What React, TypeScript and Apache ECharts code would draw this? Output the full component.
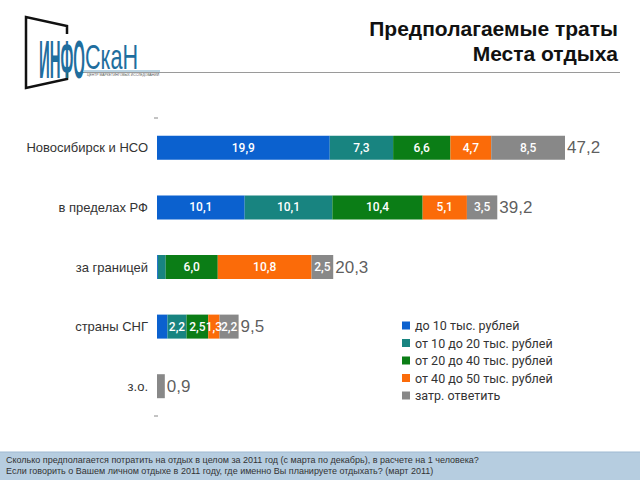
import React, { useEffect, useRef } from "react";
import * as echarts from "echarts";

const categories = ["Новосибирск и НСО", "в пределах РФ", "за границей", "страны СНГ", "з.о."];
const seriesNames = [
  "до 10 тыс. рублей",
  "от 10 до 20 тыс. рублей",
  "от 20 до 40 тыс. рублей",
  "от 40 до 50 тыс. рублей",
  "затр. ответить",
];
const upTo10 = [19.9, 10.1, 0.1, 1.2, 0];
const from10to20 = [7.3, 10.1, 0.9, 2.2, 0];
const from20to40 = [6.6, 10.4, 6.0, 2.5, 0];
const from40to50 = [4.7, 5.1, 10.8, 1.3, 0];
const noAnswer = [8.5, 3.5, 2.5, 2.2, 0.9];
const totals = [47.2, 39.2, 20.3, 9.5, 0.9];
const colors = ["#0b61cf", "#188480", "#0b7d16", "#fb6b09", "#888888"];

const titleLines = ["Предполагаемые траты", "Места отдыха"];
const footerLines = [
  "Сколько предполагается потратить на отдых в целом за 2011 год (с марта по декабрь), в расчете на 1 человека?",
  "Если говорить о Вашем личном отдыхе в 2011 году, где именно Вы планируете отдыхать? (март 2011)",
];

const fmt = (v: number) => v.toFixed(1).replace(".", ",");

export default function App() {
  const ref = useRef<HTMLDivElement>(null);
  useEffect(() => {
    if (!ref.current) return;
    const chart = echarts.init(ref.current, null, { renderer: "svg" });
    const all = [upTo10, from10to20, from20to40, from40to50, noAnswer];
    const sums = categories.map((_, i) => all.reduce((s, arr) => s + arr[i], 0));
    const barSeries = all.map((arr, k) => ({
      name: seriesNames[k],
      type: "bar",
      stack: "total",
      barWidth: 24,
      itemStyle: { color: colors[k] },
      data: arr.map((v) => ({
        value: v,
        label: {
          show: v >= 1.25,
        },
      })),
      label: {
        position: "inside",
        color: "#ffffff",
        fontSize: 12,
        fontWeight: 500,
        fontFamily: "Roboto",
        formatter: (p: any) => fmt(p.value),
      },
    }));
    const totalSeries = {
      name: "total",
      type: "scatter",
      symbolSize: 0,
      data: sums.map((s, i) => [s, categories[i]]),
      label: {
        show: true,
        position: "right",
        distance: 2,
        color: "#333333",
        fontSize: 17,
        fontFamily: "Liberation Sans",
        formatter: (p: any) => fmt(totals[p.dataIndex]),
      },
      z: 5,
    };
    chart.setOption({
      animation: false,
      backgroundColor: "#ffffff",
      grid: { left: 157, top: 118, width: 408, height: 298 },
      xAxis: {
        type: "value",
        min: 0,
        max: 47,
        show: false,
      },
      yAxis: {
        type: "category",
        inverse: true,
        data: categories,
        axisLine: { show: false },
        axisTick: { show: false },
        axisLabel: {
          margin: 9,
          color: "#333333",
          fontSize: 13,
          fontFamily: "Liberation Sans",
        },
      },
      legend: {
        data: seriesNames,
        orient: "vertical",
        left: 397,
        top: 314,
        itemWidth: 8,
        itemHeight: 8,
        itemGap: 4.5,
        icon: "rect",
        textStyle: { color: "#333333", fontSize: 12.5, fontFamily: "Roboto" },
      },
      series: [...barSeries, totalSeries],
      graphic: [
        // axis end dashes
        { type: "line", shape: { x1: 154, y1: 118, x2: 158, y2: 118 }, style: { stroke: "#888", lineWidth: 1 } },
        { type: "line", shape: { x1: 154, y1: 416, x2: 158, y2: 416 }, style: { stroke: "#888", lineWidth: 1 } },
        // title
        {
          type: "text",
          right: 22,
          top: 18,
          style: { text: titleLines[0], fontSize: 21, fontWeight: "bold", fontFamily: "Liberation Sans", fill: "#111111" },
        },
        {
          type: "text",
          right: 22,
          top: 43,
          style: { text: titleLines[1], fontSize: 21, fontWeight: "bold", fontFamily: "Liberation Sans", fill: "#111111" },
        },
        { type: "line", shape: { x1: 75, y1: 72.5, x2: 620, y2: 72.5 }, style: { stroke: "#9a9a9a", lineWidth: 1 } },
        // logo frame
        {
          type: "polyline",
          shape: { points: [[67, 34], [67, 26], [26, 17], [26, 88], [67, 79], [67, 72]] },
          style: { stroke: "#111111", lineWidth: 2.5, fill: "none" },
        },
        {
          type: "text",
          x: 39,
          y: 33,
          scaleX: 0.34,
          scaleY: 1.2,
          style: { text: "ИНФО", x: 0, y: 0, fontSize: 44, fontWeight: "bold", fontFamily: "Liberation Sans", fill: "#1f6e9e", textVerticalAlign: "top" },
        },
        {
          type: "text",
          x: 85,
          y: 38,
          scaleX: 0.6,
          scaleY: 1,
          style: { text: "СкаН", x: 0, y: 0, fontSize: 36, fontFamily: "Liberation Sans", fill: "#1f6e9e", textVerticalAlign: "top" },
        },
        { type: "line", shape: { x1: 84, y1: 71, x2: 160, y2: 71 }, style: { stroke: "#1f6e9e", lineWidth: 0.6 } },
        {
          type: "text",
          x: 87,
          y: 72.5,
          scaleX: 0.85,
          style: { text: "ЦЕНТР МАРКЕТИНГОВЫХ ИССЛЕДОВАНИЙ", x: 0, y: 0, fontSize: 4, fontFamily: "Liberation Sans", fill: "#555555", textVerticalAlign: "top" },
        },
        // footer band
        { type: "rect", shape: { x: 0, y: 452, width: 640, height: 28 }, style: { fill: "#b6cde0" } },
        { type: "line", shape: { x1: 0, y1: 452, x2: 640, y2: 452 }, style: { stroke: "#9fbad2", lineWidth: 1 } },
        {
          type: "text",
          x: 6,
          y: 455.5,
          style: { text: footerLines[0], x: 0, y: 0, fontSize: 9, fontFamily: "Liberation Sans", fill: "#333333", textVerticalAlign: "top" },
        },
        {
          type: "text",
          x: 6,
          y: 466.5,
          style: { text: footerLines[1], x: 0, y: 0, fontSize: 9, fontFamily: "Liberation Sans", fill: "#333333", textVerticalAlign: "top" },
        },
      ],
    });
    return () => chart.dispose();
  }, []);
  return <div ref={ref} style={{ width: 640, height: 480, position: "absolute", left: 0, top: 0 }} />;
}
